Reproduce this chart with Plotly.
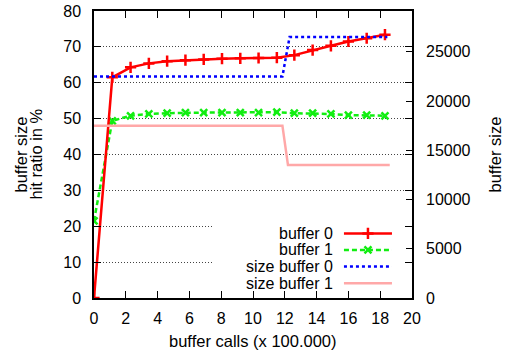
import plotly.graph_objects as go

# ---- data ----
calls = [0, 1.15, 2.3, 3.45, 4.6, 5.75, 6.9, 8.05, 9.2, 10.35, 11.5, 12.6, 13.75, 14.9, 16.0, 17.15, 18.3]
hit_buffer0 = [0, 61.5, 64.3, 65.4, 66.0, 66.3, 66.5, 66.7, 66.8, 66.9, 67.0, 67.7, 69.1, 70.3, 71.5, 72.4, 73.4]
hit_buffer1 = [21.5, 49.4, 50.8, 51.3, 51.5, 51.7, 51.7, 51.7, 51.7, 51.7, 51.8, 51.5, 51.5, 51.3, 51.0, 51.0, 50.8]

size_calls0 = [0, 11.85, 12.3, 18.45]
size_buffer0 = [22500, 22500, 26500, 26500]
size_calls1 = [0, 11.85, 12.2, 18.6]
size_buffer1 = [17500, 17500, 13500, 13500]

legend_names = ["buffer 0", "buffer 1", "size buffer 0", "size buffer 1"]
x_ticks = list(range(0, 21, 2))
y_ticks = list(range(0, 81, 10))
y2_ticks = list(range(0, 25001, 5000))

RED = "#ff0000"
GREEN = "#11ee11"
BLUE = "#0000ff"
PINK = "#ffa8a8"
FONT = "Liberation Sans"
FS = 16.5   # axis titles
LFS = 16    # legend
TFS = 16    # tick labels

red_marker = dict(symbol="cross-thin-open", size=8, color=RED, line=dict(color=RED, width=2.5))
green_marker = dict(symbol="x-thin-open", size=7, color=GREEN, line=dict(color=GREEN, width=2.5))

fig = go.Figure()
fig.add_trace(go.Scatter(x=size_calls1, y=size_buffer1, yaxis="y2", mode="lines",
                         line=dict(color=PINK, width=2.5), name=legend_names[3], showlegend=False))
fig.add_trace(go.Scatter(x=size_calls0, y=size_buffer0, yaxis="y2", mode="lines",
                         line=dict(color=BLUE, width=2.5, dash="3px,3px"), name=legend_names[2], showlegend=False))
fig.add_trace(go.Scatter(x=calls, y=hit_buffer1, mode="lines+markers",
                         line=dict(color=GREEN, width=2.5, dash="5px,3px"),
                         marker=green_marker, name=legend_names[1], showlegend=False))
fig.add_trace(go.Scatter(x=calls, y=hit_buffer0, mode="lines+markers",
                         line=dict(color=RED, width=2.5),
                         marker=red_marker, name=legend_names[0], showlegend=False))

# ---- custom legend (text left of the sample, like gnuplot) ----
leg_rows = [18.0, 13.4, 8.75, 4.1]
leg_x0, leg_x1, leg_xm, leg_tx = 15.72, 18.74, 17.23, 15.1
styles = [
    dict(color=RED, width=2.5),
    dict(color=GREEN, width=2.5, dash="5px,3px"),
    dict(color=BLUE, width=2.5, dash="3px,3px"),
    dict(color=PINK, width=2.5),
]
shapes = [dict(type="rect", xref="x", yref="y", x0=7.5, x1=20, y0=1.9, y1=21.5,
               fillcolor="white", line=dict(width=0), layer="between")]
annotations = []
for name, yy, st in zip(legend_names, leg_rows, styles):
    fig.add_trace(go.Scatter(x=[leg_x0, leg_x1], y=[yy, yy], mode="lines", line=st,
                             showlegend=False, hoverinfo="skip"))
    annotations.append(dict(x=leg_tx, y=yy, xref="x", yref="y", text=name, showarrow=False,
                            xanchor="right", yanchor="middle", borderpad=0,
                            font=dict(family=FONT, size=LFS, color="black")))
fig.add_trace(go.Scatter(x=[leg_xm], y=[leg_rows[0]], mode="markers", marker=red_marker,
                         showlegend=False, hoverinfo="skip"))
fig.add_trace(go.Scatter(x=[leg_xm], y=[leg_rows[1]], mode="markers", marker=green_marker,
                         showlegend=False, hoverinfo="skip"))

# axis titles
tf = dict(family=FONT, size=FS, color="black")
tkf = dict(family=FONT, size=TFS, color="black")
annotations += [
    dict(text="buffer size", xref="paper", yref="paper", x=(20 - 94) / 318, y=0.5, textangle=-90,
         showarrow=False, xanchor="center", yanchor="middle", font=tf),
    dict(text="hit ratio in %", xref="paper", yref="paper", x=(35 - 94) / 318, y=0.5, textangle=-90,
         showarrow=False, xanchor="center", yanchor="middle", font=tf),
    dict(text="buffer size", xref="paper", yref="paper", x=(494 - 94) / 318, y=0.5, textangle=-90,
         showarrow=False, xanchor="center", yanchor="middle", font=tf),
    dict(text="buffer calls (x 100.000)", xref="paper", yref="paper", x=0.5, y=-(341 - 298) / 287,
         showarrow=False, xanchor="center", yanchor="middle", font=tf),
]

fig.update_layout(
    width=508, height=356,
    margin=dict(l=94, r=96, t=11, b=58, autoexpand=False),
    paper_bgcolor="white", plot_bgcolor="white",
    font=dict(family=FONT, size=FS, color="black"),
    showlegend=False,
    xaxis=dict(range=[0, 20], tickvals=x_ticks, ticks="inside", ticklen=7, tickcolor="black",
               showline=True, linecolor="black", linewidth=1.5, mirror="ticks", showgrid=False,
               zeroline=False, tickfont=tkf, automargin=False, ticklabelstandoff=5),
    yaxis=dict(range=[0, 80], tickvals=y_ticks, ticks="inside", ticklen=7, tickcolor="black",
               showline=True, linecolor="black", linewidth=1.5, mirror="ticks",
               showgrid=True, gridcolor="#444444", gridwidth=1, griddash="1px,2px",
               zeroline=False, tickfont=tkf, automargin=False, ticklabelstandoff=8),
    yaxis2=dict(range=[0, 29150], tickvals=y2_ticks, tickformat="d", overlaying="y", side="right",
                ticks="inside", ticklen=6, tickcolor="black", showgrid=False, zeroline=False,
                showline=False, tickfont=tkf, automargin=False, ticklabelstandoff=13),
    shapes=shapes,
    annotations=annotations,
)

fig.write_html("out.html", config={"displayModeBar": False},
               post_script="document.body.style.margin='0';")
